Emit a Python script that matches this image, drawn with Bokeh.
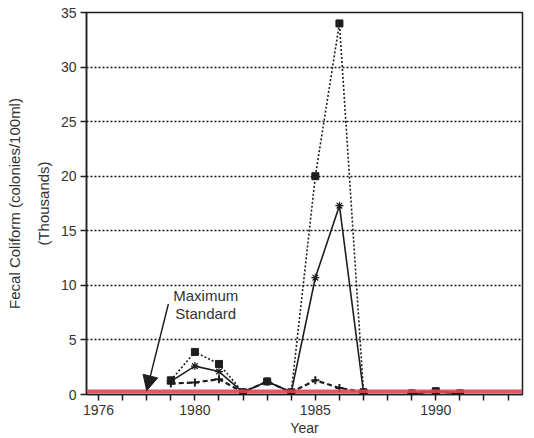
from bokeh.plotting import figure
from bokeh.models import Range1d, FixedTicker, Span, Arrow, NormalHead, Label, Title
from bokeh.embed import file_html
from bokeh.resources import INLINE

# Sampling years and fecal coliform counts (thousands of colonies / 100 ml)
years = [1979, 1980, 1981, 1982, 1983, 1984, 1985, 1986, 1987, 1988, 1989, 1990, 1991]
maximum = [1.3, 3.9, 2.8, 0.2, 1.2, 0.2, 20.0, 34.0, 0.2, float("nan"), 0.1, 0.3, 0.1]
mean = [1.2, 2.6, 2.1, 0.2, 1.2, 0.2, 10.7, 17.3, 0.2, float("nan"), 0.1, 0.3, 0.1]
minimum = [1.0, 1.1, 1.4, 0.2, 1.2, 0.2, 1.3, 0.6, 0.2, float("nan"), 0.1, 0.3, 0.1]

MAX_STANDARD = 0.3
x_ticks = list(range(1976, 1994))
x_labels = [1976, 1980, 1985, 1990]
y_ticks = [0, 5, 10, 15, 20, 25, 30, 35]

# Annotation pointing at the standard line
arrow_start = (1978.9, 8.3)
arrow_end = (1978.0, 0.35)
note_pos = (1980.45, 6.6)

FONT = "Liberation Sans"
INK = "#1e1e1e"
TEXT = "#333333"

p = figure(width=534, height=438, output_backend="svg", toolbar_location=None,
           x_range=Range1d(1975.5, 1993.6), y_range=Range1d(0, 35),
           min_border_left=12, min_border_right=12, min_border_top=12, min_border_bottom=8)
p.background_fill_color = "white"
p.border_fill_color = "white"
p.outline_line_color = INK
p.outline_line_width = 1.5

# Axes
p.xaxis.ticker = FixedTicker(ticks=x_ticks)
p.xaxis.major_label_overrides = {t: (str(t) if t in x_labels else "") for t in x_ticks}
p.yaxis.ticker = FixedTicker(ticks=y_ticks)
for ax in (p.xaxis, p.yaxis):
    ax.axis_line_color = INK
    ax.axis_line_width = 1.5
    ax.major_tick_line_color = INK
    ax.major_tick_line_width = 1.5
    ax.major_tick_out = 6
    ax.major_tick_in = 0
    ax.minor_tick_line_color = None
    ax.major_label_text_font = FONT
    ax.major_label_text_font_size = "14px"
    ax.major_label_text_color = TEXT
p.xaxis.major_label_standoff = 4
p.yaxis.major_label_standoff = 4
p.xaxis.axis_label = "Year"
p.xaxis.axis_label_text_font = FONT
p.xaxis.axis_label_text_font_size = "14px"
p.xaxis.axis_label_text_font_style = "normal"
p.xaxis.axis_label_text_color = TEXT
p.xaxis.axis_label_standoff = 2

for txt, off in (("(Thousands)", 12), ("Fecal Coliform (colonies/100ml)", 7)):
    t = Title(text=txt, align="center", text_font=FONT, text_font_size="15px",
              text_font_style="normal", text_color=TEXT, offset=0, standoff=off)
    p.add_layout(t, "left")

# Grid
p.xgrid.grid_line_color = None
p.ygrid.grid_line_color = "#111111"
p.ygrid.grid_line_dash = "2 2"
p.ygrid.grid_line_width = 1.6

# Maximum standard line
p.add_layout(Span(location=MAX_STANDARD, dimension="width", line_color="#e8404f",
                  line_width=3.5, line_alpha=0.9))

# Series
p.line(years, maximum, line_color=INK, line_width=1.6, line_dash="2 2")
p.scatter(years, maximum, marker="square", size=7, fill_color=INK, line_color=INK)

p.line(years, mean, line_color=INK, line_width=1.6)
p.scatter(years, mean, marker="asterisk", size=8, line_color=INK, line_width=1.2)

p.line(years, minimum, line_color=INK, line_width=2.2, line_dash="5 3")
p.scatter(years, minimum, marker="cross", size=8, line_color=INK, line_width=2)

# Callout
p.add_layout(Arrow(x_start=arrow_start[0], y_start=arrow_start[1],
                   x_end=arrow_end[0], y_end=arrow_end[1],
                   line_color=INK, line_width=1.5,
                   end=NormalHead(size=15, fill_color=INK, line_color=INK)))
p.add_layout(Label(x=note_pos[0], y=note_pos[1], text="Maximum\nStandard",
                   text_font=FONT, text_font_size="15px", text_color=TEXT,
                   text_align="center", text_baseline="bottom", text_line_height=1.1))

open("out.html", "w").write(file_html(p, INLINE))
